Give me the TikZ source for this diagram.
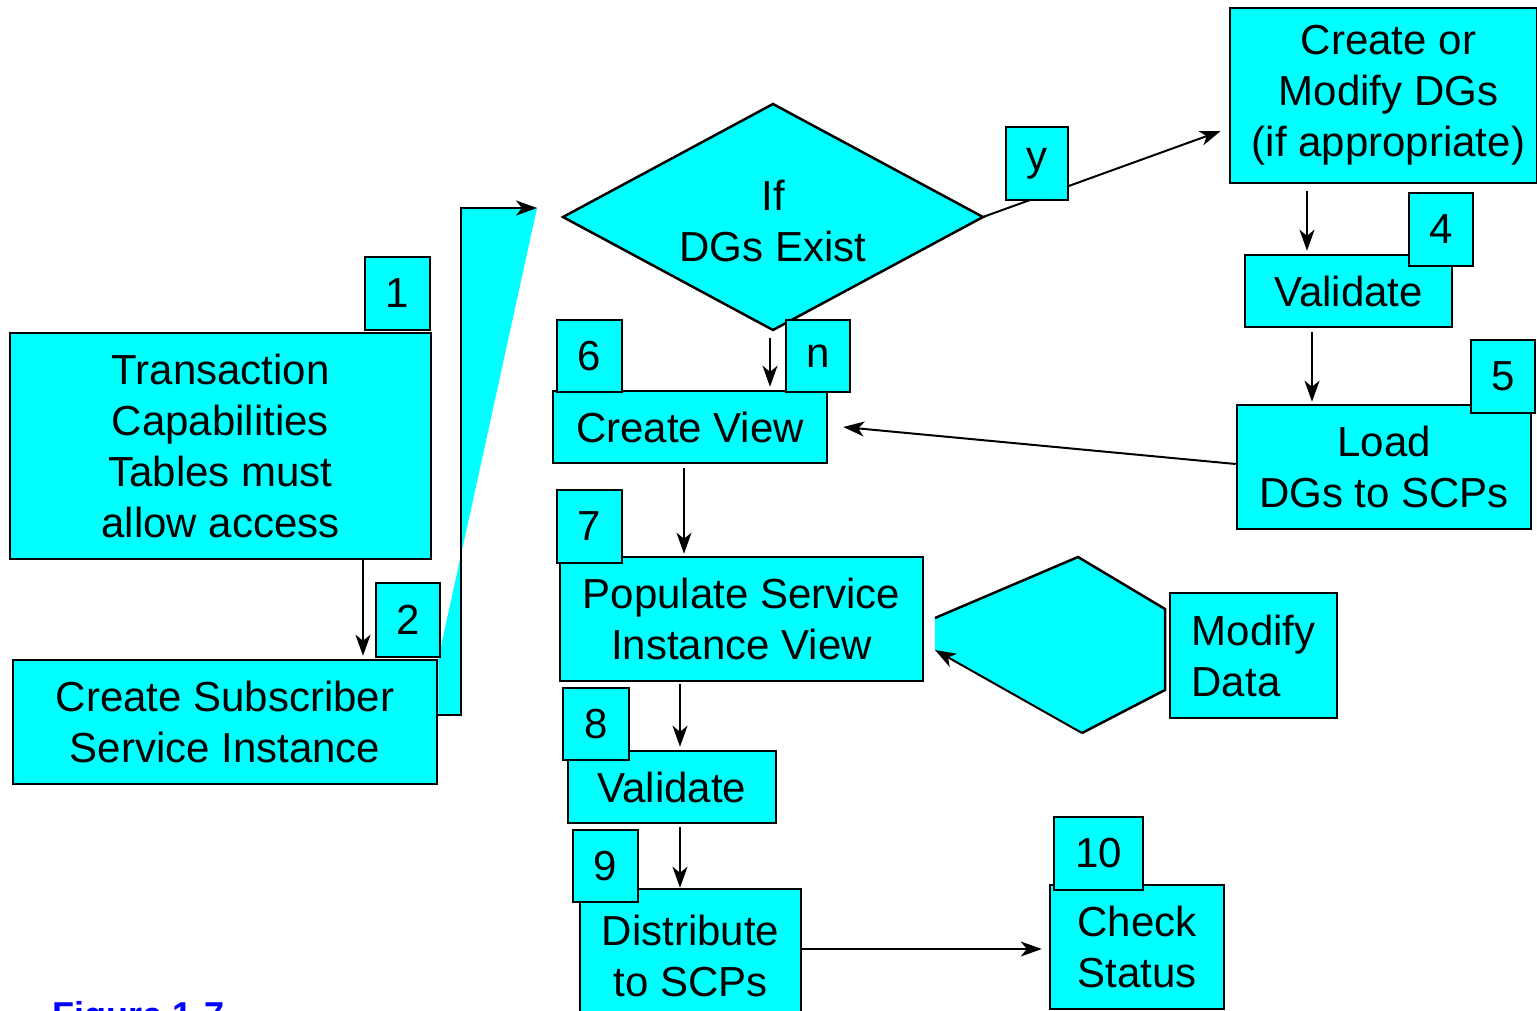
\documentclass[tikz,border=0pt]{standalone}
\usepackage{fontspec}
\setmainfont{Liberation Sans}
\usetikzlibrary{arrows.meta}
\definecolor{cy}{RGB}{0,255,255}
\definecolor{figblue}{RGB}{0,0,255}
\begin{document}
\begin{tikzpicture}[x=1pt,y=-1pt,
  box/.style={draw=black, line width=2.5pt, fill=cy, inner sep=0pt, align=center,
              font=\fontsize{42}{51}\selectfont},
  txt/.style={inner sep=0pt, align=center, font=\fontsize{42}{51}\selectfont},
  arr/.style={line width=2pt, -{Stealth[length=21pt,width=15pt,inset=6pt]}},
  shp/.style={line width=2.5pt, line join=miter},
]
\useasboundingbox (0,0) rectangle (1537,1011);

% free ends of connectors
\coordinate (dgin) at (537,208);
\coordinate (vx) at (461,208);
\coordinate (dL) at (563,217);
\coordinate (dT) at (773,104);
\coordinate (dR) at (983,217);
\coordinate (dB) at (773,330);
\coordinate (nstart) at (770,338);
\coordinate (hA) at (935,618);
\coordinate (hB) at (1078,557);
\coordinate (hC) at (1165,609);
\coordinate (hD) at (1165,690);
\coordinate (hE) at (1082,733);
\coordinate (hF) at (935,650);

% boxes
\node[box, minimum width=421, minimum height=226] (b1) at (220.5,446) {Transaction\\Capabilities\\Tables must\\allow access};
\node[box, minimum width=424, minimum height=124] (b2) at (225,722) {Create Subscriber\\Service Instance};
\coordinate (b2out) at ([yshift=7pt]b2.east);

% cyan wedge from box 2 to the decision
\fill[cy] (dgin) -- (vx) -- (vx |- b2out) -- (b2out) -- (b2.north east) -- cycle;
\draw[arr, line join=miter] (b2out) -| (vx) -- (dgin);

% decision diamond
\draw[shp, fill=cy] (dL) -- (dT) -- (dR) -- (dB) -- cycle;
\node[txt] (dg) at (773,221) {If\\DGs Exist};

\node[box, minimum width=307, minimum height=175] (cm) at (1383.5,95.5) {\hspace*{10pt}Create or\\\hspace*{10pt}Modify DGs\\\hspace*{10pt}(if appropriate)};
\node[box, minimum width=207, minimum height=72] (vr) at (1348.5,291) {Validate};
\node[box, minimum width=294, minimum height=124] (ld) at (1384,467) {Load\\DGs to SCPs};
\node[box, minimum width=274, minimum height=72] (cv) at (690,427) {Create View};
\node[box, minimum width=363, minimum height=124] (pp) at (741.5,619) {Populate Service\\Instance View};
\node[box, minimum width=167, minimum height=125, align=left] (md) at (1253.5,655.5) {Modify\\Data};
\node[box, minimum width=208, minimum height=72] (vm) at (672,787) {Validate};
\node[box, minimum width=221, minimum height=134] (ds) at (690.5,956) {Distribute\\to SCPs};
\node[box, minimum width=174, minimum height=124] (ck) at (1137,947) {Check\\Status};

% hexagon
\fill[cy] (hA) -- (hB) -- (hC) -- (hD) -- (hE) -- (hF) -- cycle;
\draw[shp] (hA) -- (hB) -- (hC) -- (hD) -- (hE);
\draw[arr] (hE) -- (hF);

% connectors
\draw[arr] ([xshift=142.5pt]b1.south) -- ([xshift=138pt,yshift=3pt]b2.north);
\draw[arr] (dR) -- ([xshift=-8pt,yshift=-35.5pt]cm.west);
\draw[arr] (nstart) -- ([xshift=80pt,yshift=3pt]cv.north);
\draw[arr] ([xshift=-76.5pt,yshift=-7pt]cm.south) -- ([xshift=-41.5pt,yshift=3pt]vr.north);
\draw[arr] ([xshift=-36.5pt,yshift=-4pt]vr.south) -- ([xshift=-72pt,yshift=2pt]ld.north);
\draw[arr] ([yshift=3pt]ld.west) -- ([xshift=15pt]cv.east);
\draw[arr] ([xshift=-6pt,yshift=-4pt]cv.south) -- ([xshift=-57.5pt,yshift=2pt]pp.north);
\draw[arr] ([xshift=-61.5pt,yshift=-2pt]pp.south) -- ([xshift=8pt,yshift=3pt]vm.north);
\draw[arr] ([xshift=8pt,yshift=-3pt]vm.south) -- ([xshift=-10.5pt]ds.north);
\draw[arr] ([yshift=7pt]ds.east) -- ([xshift=-7pt,yshift=-2pt]ck.west);

% number labels
\node[box, minimum width=65, minimum height=73] (l1) at (397.5,293.5) {1};
\node[box, minimum width=64, minimum height=74] (l2) at (408,620) {2};
\node[box, minimum width=62, minimum height=73] (ly) at (1037,163.5) {y};
\node[box, minimum width=64, minimum height=72] (ln) at (818,356) {n};
\node[box, minimum width=64, minimum height=73] (l4) at (1441,229.5) {4};
\node[box, minimum width=64, minimum height=73] (l5) at (1503,376.5) {5};
\node[box, minimum width=65, minimum height=72] (l6) at (589.5,356) {6};
\node[box, minimum width=65, minimum height=73] (l7) at (589.5,526.5) {7};
\node[box, minimum width=66, minimum height=72] (l8) at (596,724) {8};
\node[box, minimum width=65, minimum height=72] (l9) at (605.5,866) {9};
\node[box, minimum width=89, minimum height=73] (l10) at (1098.5,853.5) {10};

% caption (cut off by the page edge, as in the reference)
\node[anchor=base west, inner sep=0pt, text=figblue, font=\fontsize{36}{40}\selectfont\bfseries] (fig) at (52,1027) {Figure 1-7};
\end{tikzpicture}
\end{document}
